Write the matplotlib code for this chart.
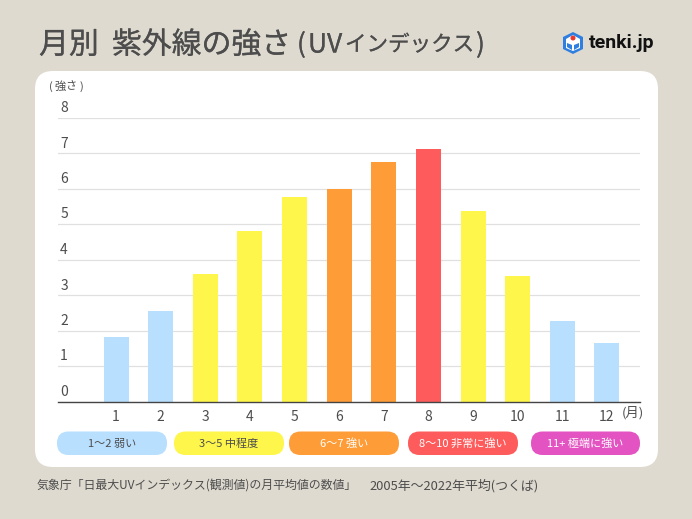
import numpy as np
import matplotlib
matplotlib.use('Agg')
import matplotlib.pyplot as plt
import matplotlib.patheffects as pe
from matplotlib.patches import FancyBboxPatch, Polygon, Circle

plt.rcParams['font.family'] = ['Noto Sans CJK JP', 'DejaVu Sans']

months = [1, 2, 3, 4, 5, 6, 7, 8, 9, 10, 11, 12]
uv_values = [1.82, 2.55, 3.6, 4.8, 5.76, 6.0, 6.75, 7.11, 5.37, 3.53, 2.27, 1.65]
y_ticks = [0, 1, 2, 3, 4, 5, 6, 7, 8]
legend_labels = ['1〜2 弱い', '3〜5 中程度', '6〜7 強い', '8〜10 非常に強い', '11+ 極端に強い']

BG = '#dedad0'
TXT = '#4d4d4d'
BLUE = '#b8dffd'
YELLOW = '#fef64a'
ORANGE = '#fe9c37'
RED = '#fe5c5c'
PINK = '#e353c1'


def level_color(v):
    if v < 3:
        return BLUE
    if v < 6:
        return YELLOW
    if v < 7:
        return ORANGE
    return RED


W, H = 692, 519
fig = plt.figure(figsize=(W / 100, H / 100), dpi=100, facecolor=BG)

# background layer in pixel coords
bg = fig.add_axes([0, 0, 1, 1], zorder=0)
bg.set_xlim(0, W)
bg.set_ylim(H, 0)
bg.axis('off')
bg.add_patch(FancyBboxPatch((35 + 18, 71 + 18), 623 - 36, 396 - 36,
                            boxstyle='round,pad=18,rounding_size=18',
                            fc='white', ec='none'))

# chart
x0, x1, y_base, y_top = 58, 640, 401.5, 117.5
ax = fig.add_axes([x0 / W, 1 - y_base / H, (x1 - x0) / W, (y_base - y_top) / H], zorder=1)
ax.patch.set_alpha(0)
ax.bar(months, uv_values, width=0.56, color=[level_color(v) for v in uv_values], zorder=2)
ax.set_xlim(-0.3, 12.74)
ax.set_ylim(0, 8)
ax.set_xticks(months)
ax.set_yticks(y_ticks)
ax.grid(axis='y', color='#e0e0e0', lw=0.9, zorder=1)
ax.tick_params(length=0)
ax.tick_params(axis='x', labelsize=10, labelcolor=TXT, pad=6)
ax.set_yticklabels([])
for s in ['top', 'left', 'right']:
    ax.spines[s].set_visible(False)
ax.spines['bottom'].set_color('#444444')
ax.spines['bottom'].set_linewidth(1.0)
ax.spines['bottom'].set_zorder(3)

# y labels sit above their gridlines
for v in y_ticks:
    bg.text(64, y_base - v * 35.5 - 9.5, str(v), fontsize=10, color=TXT, ha='center', va='center')

# （強さ）
for px, ch in zip([51, 60, 71, 81], ['(', '強', 'さ', ')']):
    bg.text(px, 86.5, ch, fontsize=8, color=TXT, ha='center', va='center')
bg.text(633, 412.5, '(月)', fontsize=9.5, color=TXT, ha='center', va='center')

# title, placed piece by piece since the katakana run is narrower than the kanji
heavy = [pe.withStroke(linewidth=0.15, foreground=TXT)]
title_parts = [(39, '月別', 21.5), (112, '紫外線の強さ', 21.5), (297, '(', 19),
               (308, 'UV', 19), (345, 'インデックス', 15.5), (476, ')', 19)]
for px, part, fs in title_parts:
    bg.text(px, 45, part, fontsize=fs, color=TXT, ha='left', va='center', path_effects=heavy)

# legend pills
pill_x = [57, 174, 289, 408, 531]
pill_w = [110, 110, 110, 110, 109]
pill_c = [BLUE, YELLOW, ORANGE, RED, PINK]
pill_t = [TXT, TXT, 'white', 'white', 'white']
for px, pw, pc, pt, lab in zip(pill_x, pill_w, pill_c, pill_t, legend_labels):
    bg.add_patch(FancyBboxPatch((px + 11.5, 431.5 + 11.5), pw - 23, 0.5,
                                boxstyle='round,pad=11.5,rounding_size=11.5', fc=pc, ec='none'))
    bg.text(px + pw / 2, 443.5, lab, fontsize=8, color=pt, ha='center', va='center')

# footnote
bg.text(37, 485.5, '気象庁「日最大UVインデックス(観測値)の月平均値の数値」', fontsize=8.6, color=TXT, ha='left', va='center')
bg.text(369, 485.5, '2005年〜2022年平均(つくば)', fontsize=9.3, color=TXT, ha='left', va='center')

# logo
bg.add_patch(Polygon([(573, 32), (583, 37), (583, 49), (573, 54), (563, 49), (563, 37)],
                     fc='#2f7fe0', ec='none'))
bg.add_patch(Polygon([(573, 35), (580, 39), (580, 48), (573, 51), (566, 48), (566, 39)],
                     fc='white', ec='none'))
bg.add_patch(Circle((573, 38), 2.5, fc='#e8392b', ec='none'))
bg.add_patch(Polygon([(567, 43), (572, 45), (572, 50), (567, 47)], fc='#2f7fe0', ec='none'))
bg.add_patch(Polygon([(579, 43), (574, 45), (574, 50), (579, 47)], fc='#2f7fe0', ec='none'))
bg.text(589, 43.5, 'tenki.jp', fontsize=14, fontweight='bold', color='#111111',
        family=['Roboto', 'DejaVu Sans'], ha='left', va='center')

fig.savefig('out.png', dpi=100, facecolor=BG)
